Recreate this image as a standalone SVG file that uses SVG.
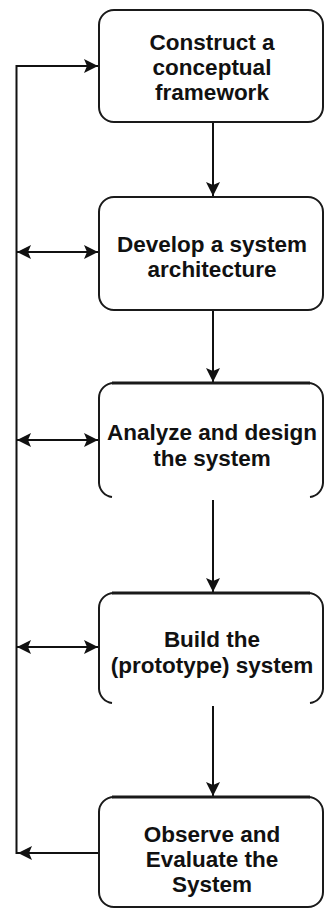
<svg xmlns="http://www.w3.org/2000/svg" width="325" height="908" viewBox="0 0 325 908">
<style>
  .box { fill: #fff; stroke: #1a1a1a; stroke-width: 2; }
  .thick { stroke-width: 3; }
  .lbl { font-family: "Liberation Sans", Arial, sans-serif; font-weight: bold; font-size: 22.5px; fill: #111; text-anchor: middle; }
  .con { fill: none; stroke: #111; stroke-width: 2; }
</style>
<defs>
  <marker id="ah" markerUnits="userSpaceOnUse" markerWidth="16" markerHeight="16" refX="14" refY="7" orient="auto-start-reverse">
    <path d="M0,0 L14,7 L0,14 L3,7 z" fill="#111"/>
  </marker>
</defs>
<g id="connectors">
  <line class="con" x1="213" y1="122" x2="213" y2="196" marker-end="url(#ah)"/>
  <line class="con" x1="213" y1="310" x2="213" y2="382" marker-end="url(#ah)"/>
  <line class="con" x1="213" y1="500" x2="213" y2="592" marker-end="url(#ah)"/>
  <line class="con" x1="213" y1="706" x2="213" y2="796" marker-end="url(#ah)"/>
  <polyline class="con" points="99,853 16.5,853 16.5,66 98,66" marker-end="url(#ah)"/>
  <line class="con" x1="17" y1="252" x2="98" y2="252" marker-start="url(#ah)" marker-end="url(#ah)"/>
  <line class="con" x1="17" y1="440" x2="98" y2="440" marker-start="url(#ah)" marker-end="url(#ah)"/>
  <line class="con" x1="17" y1="647" x2="98" y2="647" marker-start="url(#ah)" marker-end="url(#ah)"/>
  <line class="con" x1="40" y1="853" x2="18" y2="853" marker-end="url(#ah)"/>
</g>
<g id="n1">
  <rect class="box" x="99" y="10" width="224" height="112" rx="15"/>
  <text class="lbl" x="212" y="50">Construct a</text>
  <text class="lbl" x="212" y="75">conceptual</text>
  <text class="lbl" x="212" y="100">framework</text>
</g>
<g id="n2">
  <rect class="box" x="99" y="197" width="224" height="113" rx="15"/>
  <text class="lbl" x="212" y="252">Develop a system</text>
  <text class="lbl" x="212" y="277">architecture</text>
</g>
<g id="n3">
  <path class="box" d="M112,497 A15,15 0 0 1 99,483 L99,398 A15,15 0 0 1 114,383 L308,383 A15,15 0 0 1 323,398 L323,483 A15,15 0 0 1 310,497"/>
  <line class="box thick" x1="112" y1="383" x2="310" y2="383"/>
  <text class="lbl" x="212" y="440">Analyze and design</text>
  <text class="lbl" x="212" y="466">the system</text>
</g>
<g id="n4">
  <path class="box" d="M112,703 A15,15 0 0 1 99,689 L99,608 A15,15 0 0 1 114,593 L308,593 A15,15 0 0 1 323,608 L323,689 A15,15 0 0 1 310,703"/>
  <line class="box thick" x1="112" y1="593" x2="310" y2="593"/>
  <text class="lbl" x="212" y="647">Build the</text>
  <text class="lbl" x="212" y="673">(prototype) system</text>
</g>
<g id="n5">
  <rect class="box" x="99" y="797" width="224" height="110" rx="15"/>
  <line class="box thick" x1="112" y1="797" x2="310" y2="797"/>
  <text class="lbl" x="212" y="842">Observe and</text>
  <text class="lbl" x="212" y="867">Evaluate the</text>
  <text class="lbl" x="212" y="892">System</text>
</g>
</svg>
